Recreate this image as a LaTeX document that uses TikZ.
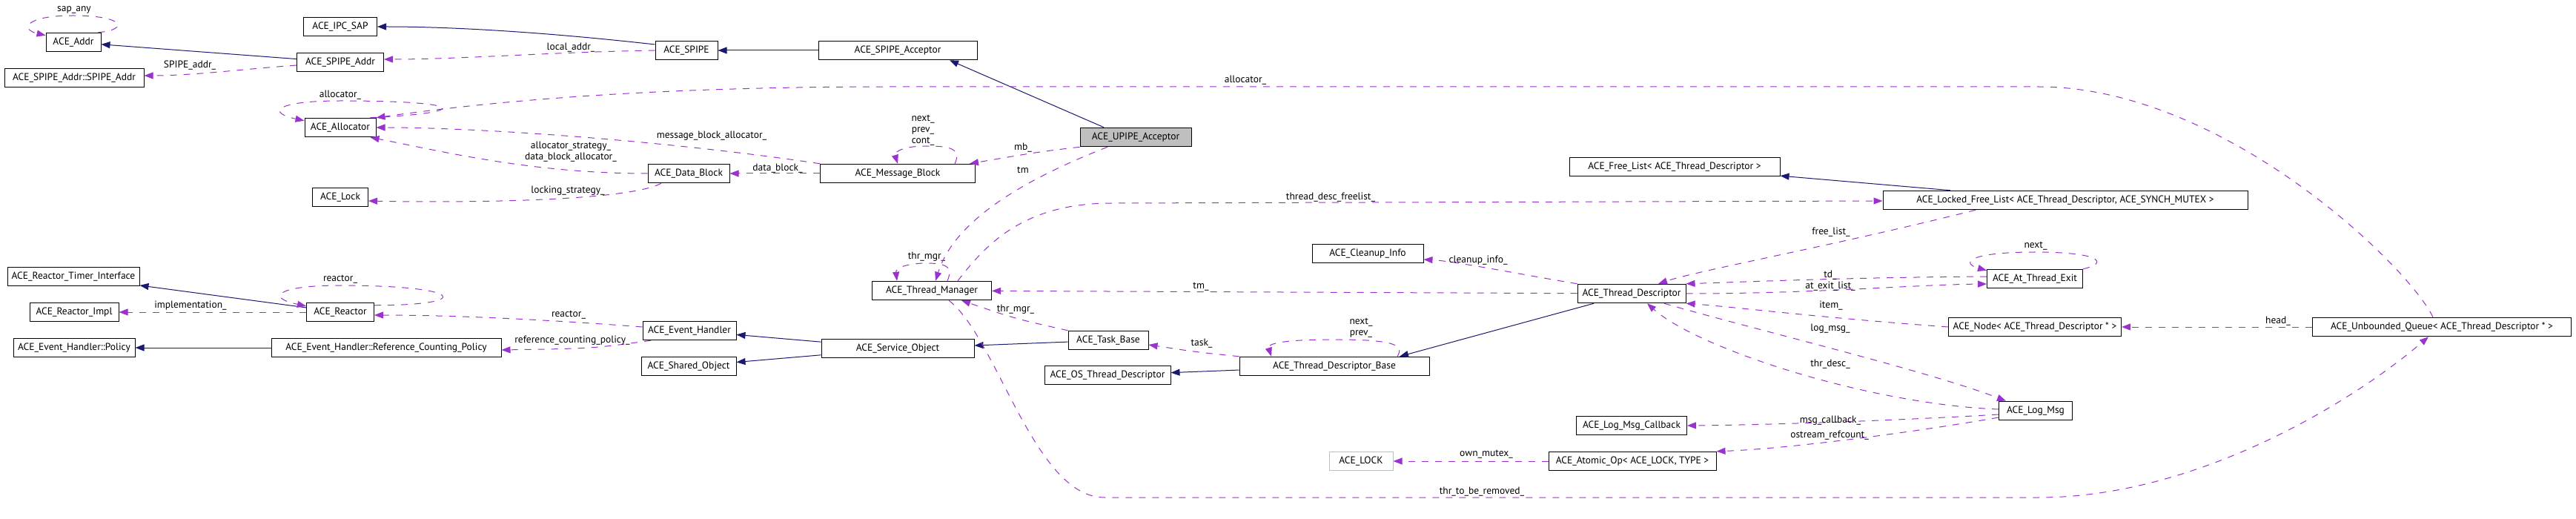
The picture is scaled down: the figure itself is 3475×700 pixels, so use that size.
\documentclass[tikz,border=0pt]{standalone}
\usepackage{fontspec}
\setmainfont{PT Sans}
\usepackage{xcolor}
\usepackage{tikz}
\usetikzlibrary{shapes,arrows.meta,positioning}

\newcommand{\dgfont}{\fontsize{13.5}{15}\selectfont}

\begin{document}
\begin{tikzpicture}[
    x=1pt, y=-1pt,
    every node/.style={
        font=\dgfont
    },
    cls/.style={
        draw,
        rectangle,
        fill=white,
        line width=1pt,
        minimum height=25.5pt,
        inner sep=0pt,
        font=\dgfont
    },
    lbl/.style={
        inner sep=0pt,
        align=center,
        font=\dgfont
    },
    inhline/.style={->, draw=inhcolor, line width=1pt, >={Triangle[length=12pt, width=9pt]}},
    useline/.style={->, draw=usecolor, line width=1pt, dash pattern=on 9pt off 9pt,
        >={Triangle[length=12pt, width=9pt]}}
]

%--- Color Definitions ---%
\definecolor{inhcolor}{RGB}{25,25,112}
\definecolor{usecolor}{RGB}{154,50,205}
\definecolor{mainfill}{RGB}{191,191,191}
\definecolor{extborder}{RGB}{191,191,191}

\useasboundingbox[fill=white] (0,0) rectangle (3475,700);

%-----------------------------------------------
% COLUMN 1
%-----------------------------------------------
\node[cls, minimum width=74pt]  (addr)     at (99,57)   {ACE\_Addr};
\node[cls, minimum width=188pt] (spipesub) at (100,105) {ACE\_SPIPE\_Addr::SPIPE\_Addr};
\node[cls, minimum width=178pt] (rtimer)   at (99,373)  {ACE\_Reactor\_Timer\_Interface};
\node[cls, minimum width=120pt] (rimpl)    at (100,421) {ACE\_Reactor\_Impl};
\node[cls, minimum width=164pt] (ehpolicy) at (100,469) {ACE\_Event\_Handler::Policy};

%-----------------------------------------------
% COLUMN 2
%-----------------------------------------------
\node[cls, minimum width=99pt]  (ipcsap)    at (459,36)  {ACE\_IPC\_SAP};
\node[cls, minimum width=117pt] (spipeaddr) at (459,84)  {ACE\_SPIPE\_Addr};
\node[cls, minimum width=96pt]  (allocator) at (459,172) {ACE\_Allocator};
\node[cls, minimum width=75pt]  (lock)      at (459,266) {ACE\_Lock};
\node[cls, minimum width=91pt]  (reactor)   at (459,421) {ACE\_Reactor};
\node[cls, minimum width=310pt] (rcpolicy)  at (521,469) {ACE\_Event\_Handler::Reference\_Counting\_Policy};

%-----------------------------------------------
% COLUMN 3
%-----------------------------------------------
\node[cls, minimum width=84pt]  (spipe)     at (926,68)  {ACE\_SPIPE};
\node[cls, minimum width=110pt] (datablock) at (929,234) {ACE\_Data\_Block};
\node[cls, minimum width=126pt] (evhandler) at (930,446) {ACE\_Event\_Handler};
\node[cls, minimum width=128pt] (sharedobj) at (929,494) {ACE\_Shared\_Object};

%-----------------------------------------------
% COLUMN 4
%-----------------------------------------------
\node[cls, minimum width=214pt] (spipeacc) at (1211,68)  {ACE\_SPIPE\_Acceptor};
\node[cls, minimum width=209pt] (msgblock) at (1211,234) {ACE\_Message\_Block};
\node[cls, minimum width=161pt] (thrmgr)   at (1257,392) {ACE\_Thread\_Manager};
\node[cls, minimum width=206pt] (svcobj)   at (1211,470) {ACE\_Service\_Object};

%-----------------------------------------------
% COLUMN 5
%-----------------------------------------------
\node[cls, fill=mainfill, minimum width=150pt] (upipe) at (1532,185) {ACE\_UPIPE\_Acceptor};
\node[cls, minimum width=108pt] (taskbase)  at (1495,459) {ACE\_Task\_Base};
\node[cls, minimum width=170pt] (osthrdesc) at (1494,506) {ACE\_OS\_Thread\_Descriptor};

%-----------------------------------------------
% COLUMN 6
%-----------------------------------------------
\node[cls, minimum width=150pt] (cleanup) at (1845,342) {ACE\_Cleanup\_Info};
\node[cls, minimum width=256pt] (tdbase)  at (1800,494) {ACE\_Thread\_Descriptor\_Base};
\node[cls, draw=extborder, minimum width=86pt] (acelock) at (1836,622) {ACE\_LOCK};

%-----------------------------------------------
% COLUMN 7
%-----------------------------------------------
\node[cls, minimum width=284pt] (freelist) at (2259,225) {ACE\_Free\_List< ACE\_Thread\_Descriptor >};
\node[cls, minimum width=146pt] (thrdesc)  at (2201,396) {ACE\_Thread\_Descriptor};
\node[cls, minimum width=149pt] (callback) at (2201,574) {ACE\_Log\_Msg\_Callback};
\node[cls, minimum width=226pt] (atomic)   at (2202,622) {ACE\_Atomic\_Op< ACE\_LOCK, TYPE >};

%-----------------------------------------------
% COLUMN 8
%-----------------------------------------------
\node[cls, minimum width=492pt] (lockedfl) at (2786,270) {ACE\_Locked\_Free\_List< ACE\_Thread\_Descriptor, ACE\_SYNCH\_MUTEX >};
\node[cls, minimum width=129pt] (atexit)   at (2745,376) {ACE\_At\_Thread\_Exit};
\node[cls, minimum width=233pt] (tnode)    at (2745,441) {ACE\_Node< ACE\_Thread\_Descriptor * >};
\node[cls, minimum width=99pt]  (logmsg)   at (2746,554) {ACE\_Log\_Msg};

%-----------------------------------------------
% COLUMN 9
%-----------------------------------------------
\node[cls, minimum width=349pt] (uqueue) at (3294,441) {ACE\_Unbounded\_Queue< ACE\_Thread\_Descriptor * >};

%-----------------------------------------------
% INHERITANCE
%-----------------------------------------------
\draw[inhline] (spipeaddr) -- (addr);
\draw[inhline] ([yshift=8pt]spipe.west) .. controls (750,45) and (620,36) .. (ipcsap.east);
\draw[inhline] (spipeacc) -- (spipe);
\draw[inhline] ([xshift=-43pt]upipe.north) -- ([xshift=70pt]spipeacc.south);
\draw[inhline] (reactor) -- (rtimer);
\draw[inhline] (rcpolicy) -- (ehpolicy);
\draw[inhline] (svcobj) -- (evhandler);
\draw[inhline] (svcobj) -- (sharedobj);
\draw[inhline] (taskbase) -- (svcobj);
\draw[inhline] (tdbase) -- (osthrdesc);
\draw[inhline] ([xshift=-51pt]thrdesc.south) -- ([xshift=88pt]tdbase.north);
\draw[inhline] (lockedfl) -- (freelist);

%-----------------------------------------------
% MEMBERS
%-----------------------------------------------
% self loops
\draw[useline] ([xshift=-4pt]addr.north east) .. controls (175,40) and (168,21) .. (99,21)
    .. controls (32,21) and (28,40) .. ([yshift=-4pt]addr.north west)
    node[lbl] (lsapany) at (100,13) {sap\_any};
\draw[useline] ([xshift=-8pt]allocator.north east) .. controls (640,152) and (630,136) .. (459,136)
    .. controls (370,136) and (360,152) .. ([yshift=-4pt]allocator.north west)
    node[lbl] (lallocself) at (459,128) {allocator\_};
\draw[useline] ([yshift=-4pt]reactor.north east) .. controls (640,412) and (630,385) .. (459,385)
    .. controls (370,385) and (360,402) .. ([yshift=-5pt]reactor.north west)
    node[lbl] (lreactself) at (459,377) {reactor\_};
\draw[useline] ([xshift=77pt]msgblock.north) .. controls (1298,200) and (1280,197) .. (1250,197)
    .. controls (1218,197) and (1206,205) .. (msgblock.north)
    node[lbl] (lmbself) at (1245,175.5) {next\_\\prev\_\\cont\_};
\draw[useline] ([xshift=21pt]thrmgr.north) .. controls (1285,362) and (1280,355) .. (1250,355)
    .. controls (1222,355) and (1208,362) .. ([xshift=-47pt]thrmgr.north)
    node[lbl] (ltmself) at (1250,346) {thr\_mgr\_};
\draw[useline] ([xshift=85pt]tdbase.north) .. controls (1895,465) and (1880,458) .. (1800,458)
    .. controls (1720,458) and (1710,465) .. ([xshift=-85pt]tdbase.north)
    node[lbl] (ltdself) at (1836,442.5) {next\_\\prev\_};
\draw[useline] (atexit.north east) .. controls (2845,355) and (2835,340) .. (2745,340)
    .. controls (2655,340) and (2645,355) .. ([yshift=-2pt]atexit.north west)
    node[lbl] (laeself) at (2746,332) {next\_};

% left part
\draw[useline] ([yshift=-4pt]spipeaddr.west) .. controls (330,93) and (260,102) .. ([yshift=3pt]spipesub.east)
    node[lbl] (lspaddr) at (256,88) {SPIPE\_addr\_};
\draw[useline] (spipe.west) .. controls (750,70) and (620,80) .. ([yshift=4pt]spipeaddr.east)
    node[lbl] (llocal) at (770,64) {local\_addr\_};
\draw[useline] (msgblock.north west) .. controls (900,190) and (650,172) .. (allocator.east)
    node[lbl] (lmba) at (960,183) {message\_block\_allocator\_};
\draw[useline] (datablock.west) .. controls (720,234) and (600,205) .. ([xshift=-8pt]allocator.south east)
    node[lbl] (ldba) at (770,204.5) {allocator\_strategy\_\\data\_block\_allocator\_};
\draw[useline] ([xshift=-37pt]datablock.south) .. controls (850,270) and (650,274) .. ([yshift=-5pt]lock.east)
    node[lbl] (llock) at (766,257) {locking\_strategy\_};
\draw[useline] (msgblock) -- (datablock)
    node[lbl] (ldb) at (1049,227) {data\_block\_};
\draw[useline] (reactor) -- (rimpl)
    node[lbl] (limpl) at (257,412) {implementation\_};
\draw[useline] ([yshift=5pt]evhandler.west) .. controls (750,432) and (620,425) .. ([yshift=-4pt]reactor.east)
    node[lbl] (lreact) at (767,425) {reactor\_};
\draw[useline] ([xshift=-52pt]evhandler.south) .. controls (800,470) .. ([yshift=-3pt]rcpolicy.east)
    node[lbl] (lrcp) at (772,459) {reference\_counting\_policy\_};

% acceptor and thread manager
\draw[useline] (upipe.south west) .. controls (1400,205) .. ([xshift=-8pt]msgblock.north east)
    node[lbl] (lmb) at (1380,199) {mb\_};
\draw[useline] ([xshift=-38pt]upipe.south) .. controls (1400,235) and (1290,290) .. ([xshift=5pt]thrmgr.north)
    node[lbl] (ltm) at (1380,229) {tm};
\draw[useline] ([xshift=-12pt]uqueue.north) .. controls (3250,360) and (3000,117) .. (2750,117)
    -- (1200,117) .. controls (850,117) and (640,140) .. (allocator.north east)
    node[lbl] (lalloc) at (1680,108) {allocator\_};
\draw[useline] ([xshift=35pt]thrmgr.north) .. controls (1330,330) and (1380,274) .. (1500,274)
    -- ([yshift=-1pt]lockedfl.west)
    node[lbl] (lfreel) at (1795,266) {thread\_desc\_freelist\_};
\draw[useline] (thrdesc) -- (thrmgr)
    node[lbl] (ltmu) at (1620,387) {tm\_};
\draw[useline] (taskbase.north west) .. controls (1370,430) .. ([xshift=40pt]thrmgr.south)
    node[lbl] (ltmgr) at (1370,417) {thr\_mgr\_};
\draw[useline] ([xshift=23pt]thrmgr.south) .. controls (1345,455) and (1395,671) .. (1490,671)
    -- (2750,671) .. controls (2960,671) and (3170,545) .. ([xshift=-18pt]uqueue.south)
    node[lbl] (lremove) at (1999,663) {thr\_to\_be\_removed\_};
\draw[useline] (tdbase.north west) .. controls (1615,475) .. ([yshift=-6pt]taskbase.east)
    node[lbl] (ltask) at (1621,463) {task\_};

% thread descriptor
\draw[useline] (thrdesc.north west) .. controls (2040,368) and (1960,352) .. ([yshift=-8pt]cleanup.east)
    node[lbl] (lclean) at (1994,351) {cleanup\_info\_};
\draw[useline] ([xshift=-121pt]lockedfl.south) .. controls (2480,330) and (2290,365) .. ([xshift=36pt]thrdesc.north)
    node[lbl] (lfree) at (2470,313) {free\_list\_};
\draw[useline] ([yshift=3pt]atexit.west) .. controls (2500,374) and (2360,380) .. (thrdesc.north east)
    node[lbl] (ltd) at (2469,371) {td\_};
\draw[useline] (thrdesc.east) .. controls (2450,396) and (2580,384) .. ([yshift=-7pt]atexit.west)
    node[lbl] (lexit) at (2469,386) {at\_exit\_list\_};
\draw[useline] (tnode.west) .. controls (2450,428) and (2340,414) .. (thrdesc.south east)
    node[lbl] (litem) at (2470,412) {item\_};
\draw[useline] (uqueue) -- (tnode)
    node[lbl] (lhead) at (3073,433) {head\_};
\draw[useline] ([xshift=44pt]thrdesc.south) .. controls (2350,440) and (2600,500) .. ([xshift=-40pt]logmsg.north)
    node[lbl] (llog) at (2469,443) {log\_msg\_};
\draw[useline] ([yshift=2pt]logmsg.west) .. controls (2520,545) and (2290,470) .. ([xshift=21pt]thrdesc.south)
    node[lbl] (lthrd) at (2469,491) {thr\_desc\_};
\draw[useline] ([yshift=-5pt]logmsg.west) .. controls (2580,566) and (2400,573) .. (callback.east)
    node[lbl] (lcb) at (2469,567) {msg\_callback\_};
\draw[useline] ([yshift=-9pt]logmsg.west) .. controls (2600,580) and (2420,605) .. (atomic.north east)
    node[lbl] (lref) at (2468,587) {ostream\_refcount\_};
\draw[useline] (atomic) -- (acelock)
    node[lbl] (lmutex) at (2005,613) {own\_mutex\_};

\end{tikzpicture}
\end{document}
